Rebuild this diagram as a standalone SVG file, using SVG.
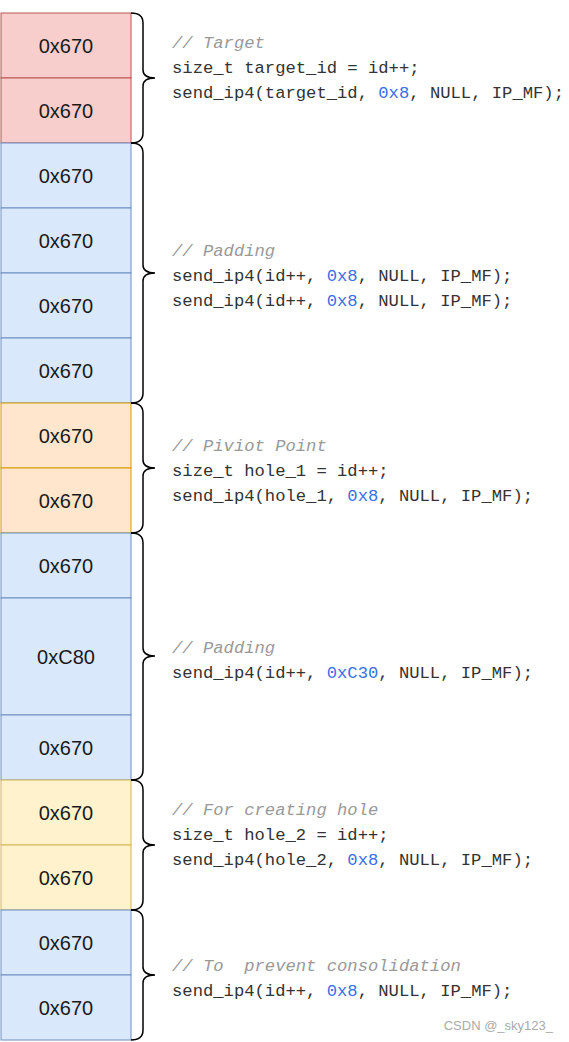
<svg xmlns="http://www.w3.org/2000/svg" width="569" height="1042" viewBox="0 0 569 1042">
<style>
.r{fill:#f8cecc;stroke:#b85450;stroke-width:1}
.b{fill:#dae8fc;stroke:#6c8ebf;stroke-width:1}
.o{fill:#ffe6cc;stroke:#d79b00;stroke-width:1}
.y{fill:#fff2cc;stroke:#d6b656;stroke-width:1}
.l{font-family:"Liberation Sans",Arial,sans-serif;font-size:20px;fill:#1a1a1a;text-anchor:middle}
.c{font-family:"Liberation Mono","DejaVu Sans Mono",monospace;font-size:17.2px;fill:#333;white-space:pre}
.cm{fill:#999;font-style:italic}
.n{fill:#3a6fe8}
.br{fill:none;stroke:#000;stroke-width:1.5}
</style>
<rect width="569" height="1042" fill="#fff"/>
<g id="blocks">
<g id="b1"><rect class="r" x="1" y="13" width="130" height="65"/><text class="l" x="66" y="52.5">0x670</text></g>
<g id="b2"><rect class="r" x="1" y="78" width="130" height="65"/><text class="l" x="66" y="117.5">0x670</text></g>
<g id="b3"><rect class="b" x="1" y="143" width="130" height="65"/><text class="l" x="66" y="182.5">0x670</text></g>
<g id="b4"><rect class="b" x="1" y="208" width="130" height="65"/><text class="l" x="66" y="247.5">0x670</text></g>
<g id="b5"><rect class="b" x="1" y="273" width="130" height="65"/><text class="l" x="66" y="312.5">0x670</text></g>
<g id="b6"><rect class="b" x="1" y="338" width="130" height="65"/><text class="l" x="66" y="377.5">0x670</text></g>
<g id="b7"><rect class="o" x="1" y="403" width="130" height="65"/><text class="l" x="66" y="442.5">0x670</text></g>
<g id="b8"><rect class="o" x="1" y="468" width="130" height="65"/><text class="l" x="66" y="507.5">0x670</text></g>
<g id="b9"><rect class="b" x="1" y="533" width="130" height="65"/><text class="l" x="66" y="572.5">0x670</text></g>
<g id="b10"><rect class="b" x="1" y="598" width="130" height="117"/><text class="l" x="66" y="663.5">0xC80</text></g>
<g id="b11"><rect class="b" x="1" y="715" width="130" height="65"/><text class="l" x="66" y="754.5">0x670</text></g>
<g id="b12"><rect class="y" x="1" y="780" width="130" height="65"/><text class="l" x="66" y="819.5">0x670</text></g>
<g id="b13"><rect class="y" x="1" y="845" width="130" height="65"/><text class="l" x="66" y="884.5">0x670</text></g>
<g id="b14"><rect class="b" x="1" y="910" width="130" height="65"/><text class="l" x="66" y="949.5">0x670</text></g>
<g id="b15"><rect class="b" x="1" y="975" width="130" height="65"/><text class="l" x="66" y="1014.5">0x670</text></g>
</g>
<g id="braces">
<path class="br" d="M131,13 Q143,13 143,23 L143,70 Q143,78 155,78 Q143,78 143,86 L143,133 Q143,143 131,143"/>
<path class="br" d="M131,143 Q143,143 143,153 L143,265 Q143,273 155,273 Q143,273 143,281 L143,393 Q143,403 131,403"/>
<path class="br" d="M131,403 Q143,403 143,413 L143,460 Q143,468 155,468 Q143,468 143,476 L143,523 Q143,533 131,533"/>
<path class="br" d="M131,533 Q143,533 143,543 L143,648 Q143,656 155,656 Q143,656 143,664 L143,770 Q143,780 131,780"/>
<path class="br" d="M131,780 Q143,780 143,790 L143,837 Q143,845 155,845 Q143,845 143,853 L143,900 Q143,910 131,910"/>
<path class="br" d="M131,910 Q143,910 143,920 L143,967 Q143,975 155,975 Q143,975 143,983 L143,1030 Q143,1040 131,1040"/>
</g>
<g id="code" class="c" xml:space="preserve">
<text x="172" y="48" class="c cm">// Target</text>
<text x="172" y="73">size_t target_id = id++;</text>
<text x="172" y="98">send_ip4(target_id, <tspan class="n">0x8</tspan>, NULL, IP_MF);</text>
<text x="172" y="256" class="c cm">// Padding</text>
<text x="172" y="281">send_ip4(id++, <tspan class="n">0x8</tspan>, NULL, IP_MF);</text>
<text x="172" y="306">send_ip4(id++, <tspan class="n">0x8</tspan>, NULL, IP_MF);</text>
<text x="172" y="451" class="c cm">// Piviot Point</text>
<text x="172" y="476">size_t hole_1 = id++;</text>
<text x="172" y="501">send_ip4(hole_1, <tspan class="n">0x8</tspan>, NULL, IP_MF);</text>
<text x="172" y="653" class="c cm">// Padding</text>
<text x="172" y="678">send_ip4(id++, <tspan class="n">0xC30</tspan>, NULL, IP_MF);</text>
<text x="172" y="815" class="c cm">// For creating hole</text>
<text x="172" y="840">size_t hole_2 = id++;</text>
<text x="172" y="865">send_ip4(hole_2, <tspan class="n">0x8</tspan>, NULL, IP_MF);</text>
<text x="172" y="971" class="c cm">// To  prevent consolidation</text>
<text x="172" y="996">send_ip4(id++, <tspan class="n">0x8</tspan>, NULL, IP_MF);</text>
</g>
<text x="553" y="1030" text-anchor="end" font-family="Liberation Sans,Arial,sans-serif" font-size="13" fill="#aaa">CSDN @_sky123_</text>
</svg>
